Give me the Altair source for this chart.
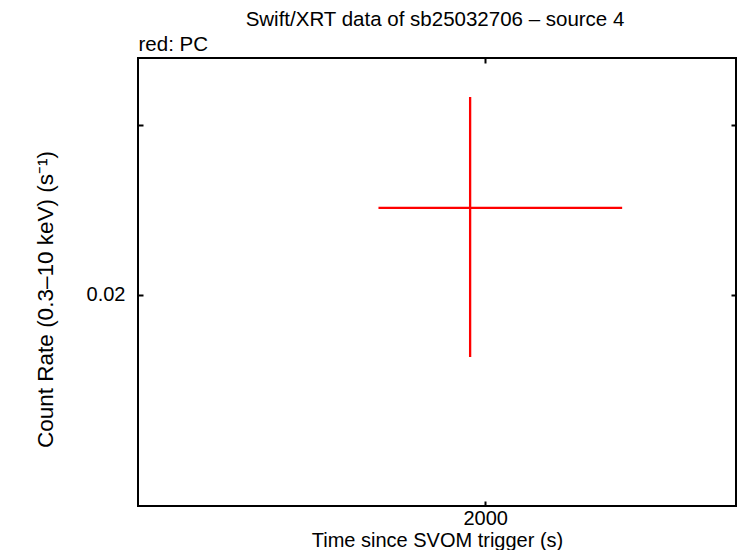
import altair as alt
import pandas as pd

# data
time = [1957.0]
time_lo = [1715.0]
time_hi = [2436.0]
rate = [0.02461]
rate_lo = [0.01725]
rate_hi = [0.03206]

x_domain = [1213.0, 2870.0]
y_domain = [0.01209, 0.03518]
x_ticks = [2000]
y_ticks = [0.02, 0.03]

df = pd.DataFrame({"t": time, "tlo": time_lo, "thi": time_hi,
                   "r": rate, "rlo": rate_lo, "rhi": rate_hi})

FONT = "Liberation Sans"
RED = "#ff0000"

xscale = alt.Scale(type="log", domain=x_domain, nice=False, zero=False)
yscale = alt.Scale(type="log", domain=y_domain, nice=False, zero=False)

x_bottom = alt.Axis(values=x_ticks, format="d", orient="bottom", offset=-5, tickSize=5,
                    tickWidth=2, domain=False, grid=False, labelPadding=18,
                    labelBaseline="alphabetic",
                    labelFontSize=20, labelFont=FONT, labelColor="black",
                    title="Time since SVOM trigger (s)", titleFontSize=20,
                    titleFont=FONT, titleFontWeight="normal", titleY=45,
                    titleBaseline="alphabetic",
                    titleColor="black", tickColor="black")
y_left = alt.Axis(values=y_ticks, orient="left", offset=-5, tickSize=5, tickWidth=2,
                  domain=False, grid=False, labelPadding=13,
                  labelExpr="abs(datum.value - 0.02) < 1e-9 ? '0.02' : ''",
                  labelFontSize=20, labelFont=FONT, labelColor="black",
                  title="Count Rate (0.3\u201310 keV) (s\u207b\u00b9)", titleFontSize=22.5,
                  titleFont=FONT, titleFontWeight="normal", titleColor="black",
                  titleX=-98, titleY=241, titleBaseline="middle", titleAngle=270,
                  tickColor="black")
x_top = alt.Axis(values=x_ticks, orient="top", offset=-5, tickSize=5, tickWidth=2,
                 domain=False, grid=False, labels=False, title="red: PC",
                 titleFontSize=20.5, titleFont=FONT, titleFontWeight="normal",
                 titleColor="black", titleX=0, titleY=-13, titleAlign="left",
                 titleBaseline="alphabetic", tickColor="black")
y_right = alt.Axis(values=y_ticks, orient="right", offset=-5, tickSize=5, tickWidth=2,
                   domain=False, grid=False, labels=False, title=None,
                   tickColor="black")

base = alt.Chart(df)

vert = base.mark_rule(color=RED, strokeWidth=2.3).encode(
    x=alt.X("t:Q", scale=xscale, axis=x_bottom),
    y=alt.Y("rlo:Q", scale=yscale, axis=y_left),
    y2="rhi:Q",
)
horiz = base.mark_rule(color=RED, strokeWidth=2.3).encode(
    x=alt.X("tlo:Q", scale=xscale, axis=x_top),
    x2="thi:Q",
    y=alt.Y("r:Q", scale=yscale, axis=y_right),
)

chart = alt.layer(vert, horiz).resolve_axis(x="independent", y="independent").properties(
    width=598, height=448,
    autosize=alt.AutoSizeParams(type="none"),
    padding={"left": 130, "top": 50, "right": 2, "bottom": 44},
    title=alt.TitleParams("Swift/XRT data of sb25032706 \u2013 source 4", font=FONT,
                          fontSize=20.5, fontWeight="normal", color="black",
                          anchor="middle", dx=-2, offset=4),
).configure(background="white").configure_view(stroke="black", strokeWidth=2)

chart.save("out.html", embed_options={"renderer": "svg", "actions": False})
